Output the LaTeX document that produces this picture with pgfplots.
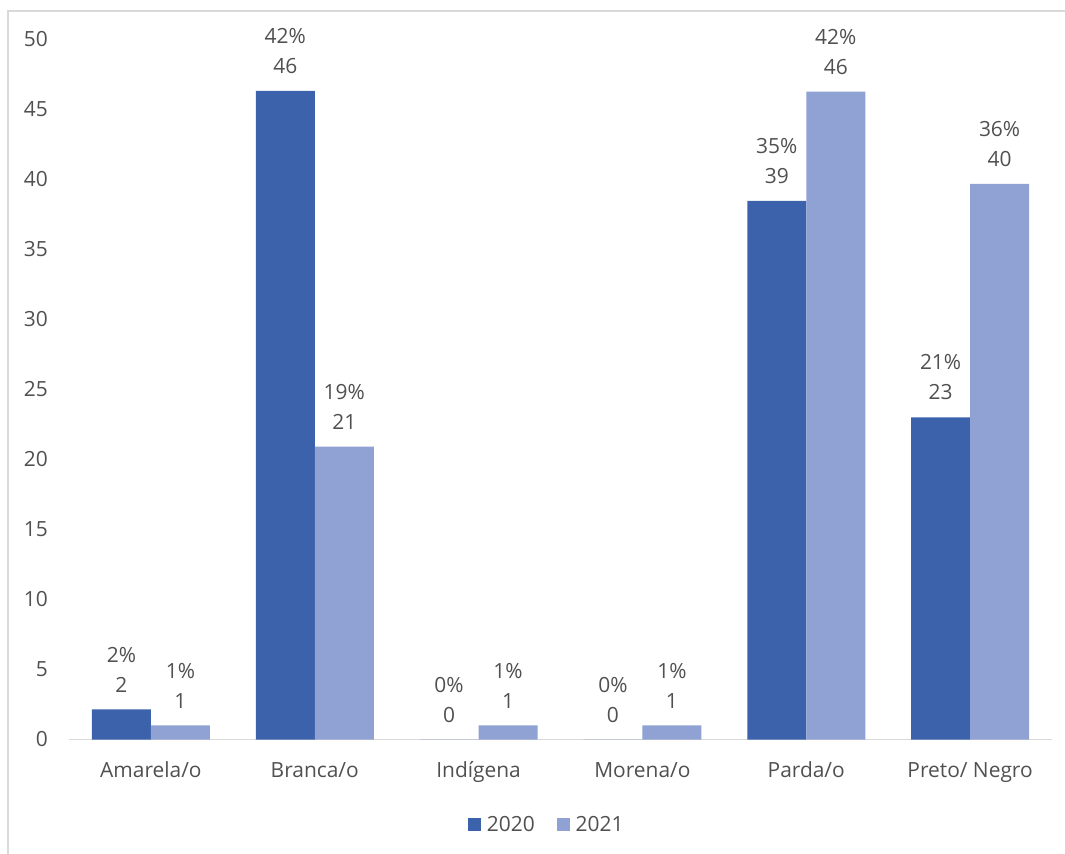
\documentclass[border=0pt]{standalone}
\usepackage{pgfplots}
\pgfplotsset{compat=1.18}
\usepackage{pgfplotstable}
\usepackage{fontspec}
\setmainfont{Open Sans}
\definecolor{cA}{RGB}{59,98,170}
\definecolor{cB}{RGB}{143,162,211}
\definecolor{txt}{RGB}{80,80,80}
\definecolor{frame}{RGB}{217,217,217}
\def\splitlbl#1/#2\relax{#1\%\\#2}

\pgfplotstableread{
x y lbl
0 2.15 2/2
1 46.3 42/46
2 0 0/0
3 0 0/0
4 38.45 35/39
5 23.0 21/23
}\tA
\pgfplotstableread{
x y lbl
0 1.0 1/1
1 20.9 19/21
2 1.0 1/1
3 1.0 1/1
4 46.25 42/46
5 39.65 36/40
}\tB

\begin{document}
\begin{tikzpicture}
\useasboundingbox (-69bp,-114.5bp) rectangle (996bp,739.5bp);
\draw[frame, line width=1.5bp] (-61bp,-140bp) rectangle (1010bp,728.5bp);
\begin{axis}[
  scale only axis,
  width=983bp, height=700.5bp,
  xmin=-0.5, xmax=5.5, ymin=0, ymax=50,
  ybar=0pt, bar width=59bp,
  axis y line*=left,
  axis x line*=bottom,
  x axis line style={frame, line width=1.3bp},
  y axis line style={draw=none},
  major tick length=0pt,
  xtick={0,1,2,3,4,5},
  xticklabels={Amarela/o,Branca/o,Indígena,Morena/o,Parda/o,Preto/ Negro},
  ytick={0,5,...,50},
  /pgf/number format/assume math mode=true,
  tick label style={font=\fontsize{21}{25}\selectfont, text=txt},
  xticklabel style={anchor=base, inner sep=0pt, yshift=-37.8bp},
  yticklabel style={anchor=east, inner sep=0pt, xshift=-21bp},
  point meta=explicit symbolic,
  nodes near coords={\expandafter\splitlbl\pgfplotspointmeta\relax},
  every node near coord/.append style={font=\fontsize{21}{30}\selectfont, text=txt, align=center, anchor=south, inner sep=0pt, yshift=17bp},
  legend style={draw=none, at={(0.486,-0.122)}, anchor=center, legend columns=2, font=\fontsize{21}{25}\selectfont, text=txt, /tikz/every even column/.append style={column sep=20bp}},
  legend image code/.code={\fill[#1] (0bp,-6.5bp) rectangle (13bp,6.5bp);},
]
\addplot[fill=cA, draw=none] table[x=x,y=y,meta=lbl] {\tA};
\addplot[fill=cB, draw=none] table[x=x,y=y,meta=lbl] {\tB};
\legend{\hspace{4bp}2020,\hspace{4bp}2021}
\end{axis}
\end{tikzpicture}
\end{document}
